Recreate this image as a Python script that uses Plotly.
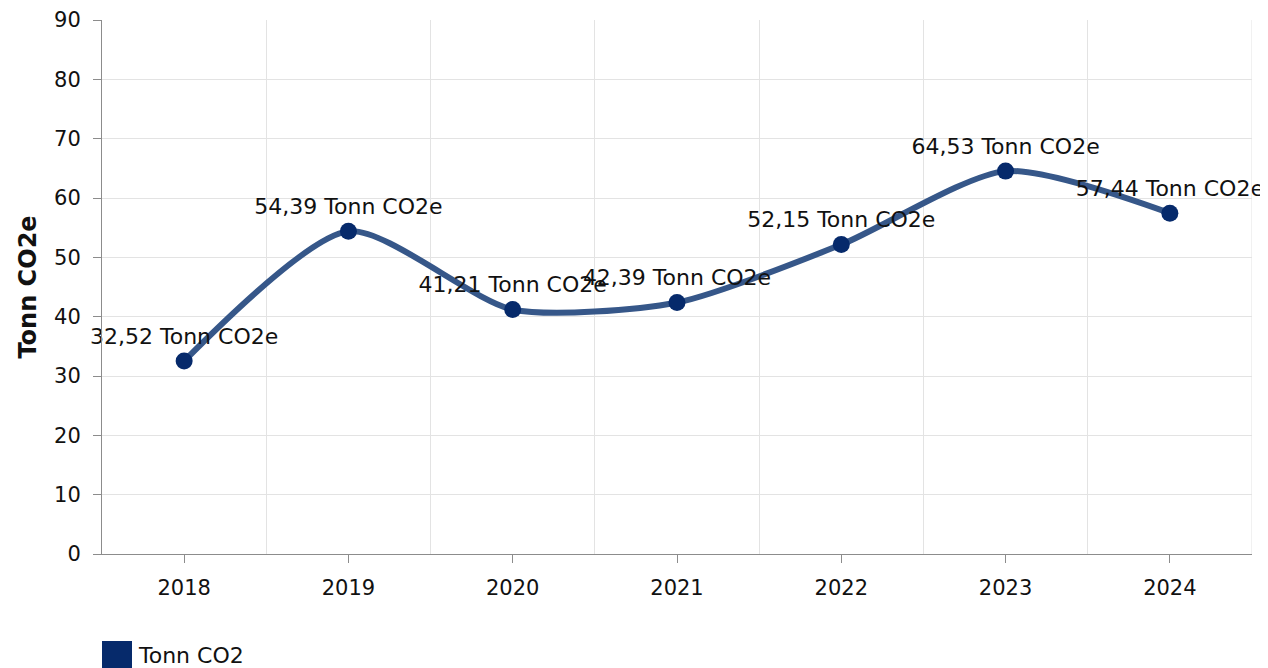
import plotly.graph_objects as go

years = [2018, 2019, 2020, 2021, 2022, 2023, 2024]
values = [32.52, 54.39, 41.21, 42.39, 52.15, 64.53, 57.44]
series_name = "Tonn CO2"
unit = "Tonn CO2e"
y_ticks = [0, 10, 20, 30, 40, 50, 60, 70, 80, 90]

labels = [f"{v:.2f}".replace(".", ",") + " " + unit for v in values]

FONT = "DejaVu Sans"
NAVY = "#062a6b"
LINE = "#365789"
PLOT_W, PLOT_H = 1150, 534

fig = go.Figure()
fig.add_trace(go.Scatter(
    x=years, y=values, mode="lines+markers+text",
    line=dict(color=LINE, width=6, shape="spline", smoothing=0.7),
    marker=dict(color=NAVY, size=17),
    text=labels, textposition="top center",
    textfont=dict(family=FONT, size=22, color="#111111"),
    showlegend=False, cliponaxis=False,
))

# page body has an 8px margin, so the figure is 8px smaller and margins shifted
fig.update_layout(
    width=1260, height=660,
    margin=dict(l=94, r=16, t=12, b=114, autoexpand=False),
    paper_bgcolor="white", plot_bgcolor="white",
    font=dict(family=FONT, size=21, color="#111111"),
    xaxis=dict(
        range=[years[0] - 0.5, years[-1] + 0.5],
        tickvals=years, ticktext=[str(y) for y in years],
        showgrid=False, showline=True, linecolor="#8c8c8c", linewidth=1,
        ticks="outside", ticklen=8, tickcolor="#8c8c8c", ticklabelstandoff=7,
        minor=dict(tick0=years[0] - 0.5, dtick=1, showgrid=True,
                   gridcolor="#e3e3e3", gridwidth=1, ticklen=0),
        zeroline=False, fixedrange=True, automargin=False,
    ),
    yaxis=dict(
        range=[0, 90], tickvals=y_ticks,
        showgrid=True, gridcolor="#e3e3e3", gridwidth=1,
        showline=True, linecolor="#8c8c8c", linewidth=1,
        ticks="outside", ticklen=8, tickcolor="#8c8c8c", ticklabelstandoff=8,
        zeroline=False, automargin=False,
        title=dict(text="<b>Tonn CO2e</b>", font=dict(family=FONT, size=24), standoff=10),
    ),
)

# right border gridline
fig.add_shape(type="line", xref="x", yref="paper", x0=years[-1] + 0.5, x1=years[-1] + 0.5,
              y0=0, y1=1, line=dict(color="#e3e3e3", width=1))

# legend (square + label)
fig.add_shape(type="rect", xref="paper", yref="paper",
              x0=0, x1=30 / PLOT_W, y0=-(641 - 554) / PLOT_H, y1=-(676 - 554) / PLOT_H,
              fillcolor=NAVY, line=dict(width=0))
fig.add_annotation(xref="paper", yref="paper", x=34 / PLOT_W, y=-(655 - 554) / PLOT_H,
                   text=series_name, showarrow=False, xanchor="left", yanchor="middle",
                   font=dict(family=FONT, size=22, color="#111111"))

fig.write_html("out.html")
